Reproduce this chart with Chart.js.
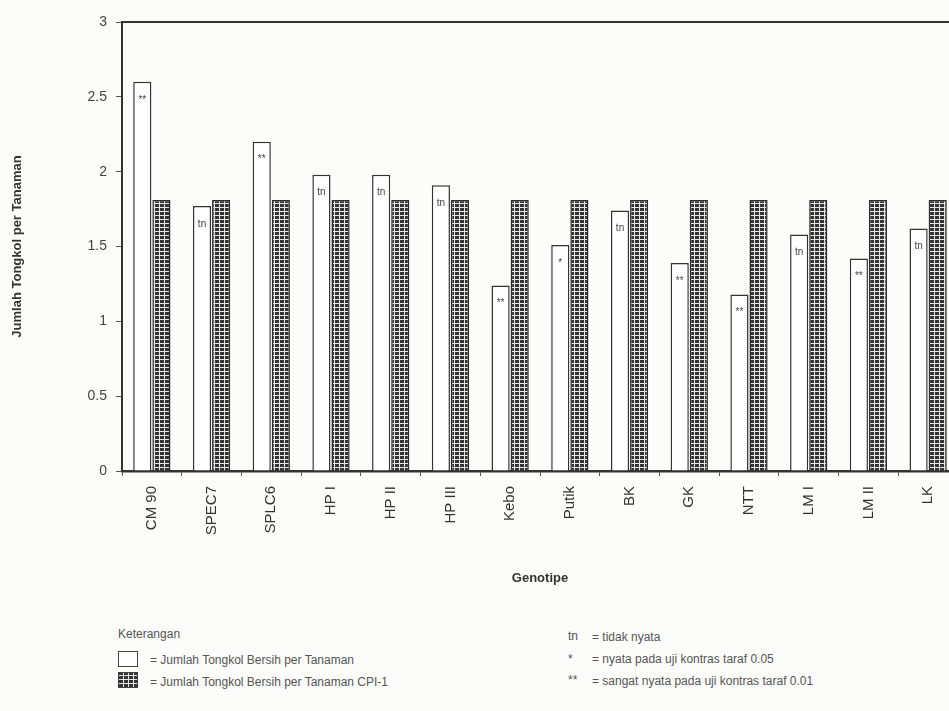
<!DOCTYPE html>
<html>
<head>
<meta charset="utf-8">
<script src="https://cdn.jsdelivr.net/npm/chart.js@4/dist/chart.umd.min.js"></script>
<style>
  html, body { margin: 0; padding: 0; background: #fcfcfa; overflow: hidden; }
  #wrap { position: relative; width: 949px; height: 711px; overflow: hidden; }
  #myChart { position: absolute; left: 0; top: 0; }
  .note { position: absolute; font-family: "Liberation Sans Narrow", "Liberation Sans", sans-serif;
          font-size: 12px; color: #555; white-space: nowrap; }
  .box { position: absolute; width: 18px; height: 14px; border: 1.5px solid #444; background: #fff; }
  .box.hatch {
    background-color: #333;
    background-image:
      repeating-linear-gradient(90deg, transparent 0 4px, #e8e8e8 4px 5px),
      repeating-linear-gradient(0deg, transparent 0 3px, #e8e8e8 3px 4px);
  }
</style>
</head>
<body>
<div id="wrap">
  <canvas id="myChart" width="965" height="596"></canvas>

  <div class="note" style="left:118px; top:627px;">Keterangan</div>
  <div class="box" style="left:118px; top:651px;"></div>
  <div class="note" style="left:150px; top:653px;">= Jumlah Tongkol Bersih per Tanaman</div>
  <div class="box hatch" style="left:118px; top:672px;"></div>
  <div class="note" style="left:150px; top:675px;">= Jumlah Tongkol Bersih per Tanaman CPI-1</div>

  <div class="note" style="left:568px; top:629px;">tn</div>
  <div class="note" style="left:592px; top:630px;">= tidak nyata</div>
  <div class="note" style="left:568px; top:652px;">*</div>
  <div class="note" style="left:592px; top:652px;">= nyata pada uji kontras taraf 0.05</div>
  <div class="note" style="left:568px; top:673px;">**</div>
  <div class="note" style="left:592px; top:674px;">= sangat nyata pada uji kontras taraf 0.01</div>
</div>

<script>
var genotypes = ["CM 90", "SPEC7", "SPLC6", "HP I", "HP II", "HP III", "Kebo",
                 "Putik", "BK", "GK", "NTT", "LM I", "LM II", "LK"];
var bersih = [2.60, 1.77, 2.20, 1.98, 1.98, 1.91, 1.24, 1.51, 1.74, 1.39, 1.18, 1.58, 1.42, 1.62];
var bersihCPI = [1.81, 1.81, 1.81, 1.81, 1.81, 1.81, 1.81, 1.81, 1.81, 1.81, 1.81, 1.81, 1.81, 1.81];
var signif = ["**", "tn", "**", "tn", "tn", "tn", "**", "*", "tn", "**", "**", "tn", "**", "tn"];
var yTicks = [0, 0.5, 1, 1.5, 2, 2.5, 3];

// hatched fill for the CPI-1 bars
makeHatch = () => {
  var c = document.createElement("canvas");
  c.width = 5;
  c.height = 4;
  var g = c.getContext("2d");
  g.fillStyle = "#333333";
  g.fillRect(0, 0, 5, 4);
  g.fillStyle = "#e8e8e8";
  g.fillRect(4, 0, 1, 4);
  g.fillRect(0, 3, 5, 1);
  return g.createPattern(c, "repeat");
};

var signifLabels = {
  id: "signifLabels",
  afterDatasetsDraw: (chart) => {
    var ctx = chart.ctx;
    var meta = chart.getDatasetMeta(0);
    ctx.save();
    ctx.font = "10px 'Liberation Sans', sans-serif";
    ctx.fillStyle = "#444";
    ctx.textAlign = "center";
    ctx.textBaseline = "middle";
    meta.data.forEach((bar, i) => {
      ctx.fillText(signif[i], bar.x, bar.y + 18);
    });
    ctx.restore();
  },
};

var topFrame = {
  id: "topFrame",
  afterDraw: (chart) => {
    var a = chart.chartArea;
    var ctx = chart.ctx;
    ctx.save();
    ctx.strokeStyle = "#333";
    ctx.lineWidth = 2;
    ctx.beginPath();
    ctx.moveTo(a.left, a.top);
    ctx.lineTo(a.right + 10, a.top);
    ctx.stroke();
    ctx.restore();
  },
};

createChart = () => {
  const ctx = document.getElementById("myChart").getContext("2d");
  new Chart(ctx, {
    type: "bar",
    data: {
      labels: genotypes,
      datasets: [
        {
          label: "Jumlah Tongkol Bersih per Tanaman",
          data: bersih,
          backgroundColor: "#ffffff",
          borderColor: "#333",
          borderWidth: 1.5,
          borderSkipped: "bottom",
        },
        {
          label: "Jumlah Tongkol Bersih per Tanaman CPI-1",
          data: bersihCPI,
          backgroundColor: makeHatch(),
          borderColor: "#2b2b2b",
          borderWidth: 1.5,
          borderSkipped: "bottom",
        },
      ],
    },
    options: {
      responsive: false,
      animation: false,
      categoryPercentage: 0.64,
      barPercentage: 0.95,
      layout: { padding: { top: 22, right: 7, left: 0, bottom: 0 } },
      plugins: { legend: { display: false }, tooltip: { enabled: false } },
      scales: {
        x: {
          grid: { display: true, drawOnChartArea: false, drawTicks: true, tickLength: 5, color: "#555", offset: true },
          border: { display: true, color: "#333", width: 2.5 },
          ticks: {
            minRotation: 90,
            maxRotation: 90,
            padding: 10,
            color: "#333",
            font: { family: "'Liberation Sans', Arial, sans-serif", size: 15 },
          },
          title: {
            display: true,
            text: "Genotipe",
            color: "#333",
            font: { family: "'Liberation Sans', Arial, sans-serif", size: 13, weight: "bold" },
            padding: { top: 0, bottom: 10 },
          },
          afterFit: (scale) => {
            scale.height = 125;
          },
        },
        y: {
          min: 0,
          max: 3,
          afterBuildTicks: (scale) => {
            scale.ticks = yTicks.map((v) => ({ value: v }));
          },
          grid: { display: true, drawOnChartArea: false, drawTicks: true, tickLength: 6, color: "#555" },
          border: { display: true, color: "#333", width: 2 },
          ticks: {
            padding: 9,
            color: "#444",
            font: { family: "'Liberation Sans', Arial, sans-serif", size: 14 },
            callback: (v) => String(v),
          },
          title: {
            display: true,
            text: "Jumlah Tongkol per Tanaman",
            color: "#333",
            font: { family: "'Liberation Sans', Arial, sans-serif", size: 13, weight: "bold" },
            padding: { top: 10, bottom: 0 },
          },
          afterFit: (scale) => {
            scale.width = 122;
          },
        },
      },
    },
    plugins: [signifLabels, topFrame],
  });
};

createChart();
</script>
</body>
</html>
